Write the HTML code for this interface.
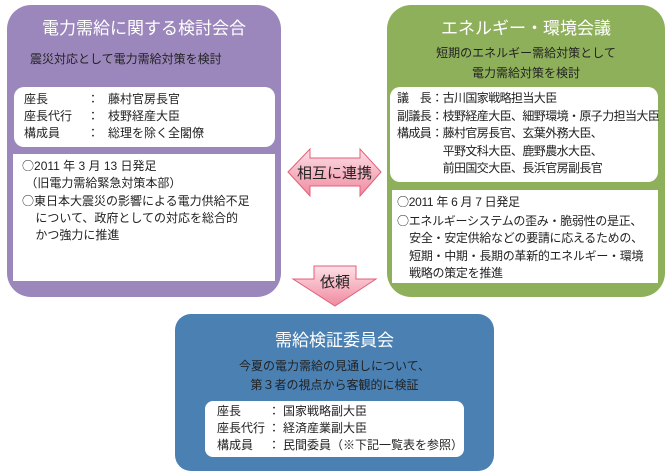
<!DOCTYPE html>
<html><head><meta charset="utf-8"><style>
body{margin:0;width:671px;height:476px;background:#fff;position:relative;overflow:hidden;font-family:"Liberation Sans","Noto Sans CJK JP",sans-serif;color:#222}
.a{position:absolute}
.box{position:absolute;border-radius:24px}
.t{position:absolute;left:0;right:0;text-align:center;color:#fff;font-size:17px}
.s{position:absolute;font-size:12px;line-height:18px;white-space:nowrap}
.w{position:absolute;background:#fff}
.c{font-family:"Noto Sans CJK JP",sans-serif}
</style></head><body>
<div class="box" style="left:7px;top:5px;width:274px;height:292px;background:#9c87bc"></div>
<div class="a t" style="left:7px;width:274px;right:auto;top:14px">電力需給に関する検討会合</div>
<div class="s" style="left:30px;top:50px">震災対応として電力需給対策を検討</div>
<div class="w" style="left:14px;top:87px;width:261px;height:60px;border-radius:10px"></div>
<div class="s" style="left:24px;top:91px;line-height:17px">座長<br>座長代行<br>構成員</div>
<div class="s" style="left:87px;top:91px;line-height:17px">：<br>：<br>：</div>
<div class="s" style="left:108px;top:91px;line-height:17px">藤村官房長官<br>枝野経産大臣<br>総理を除く全閣僚</div>
<div class="w" style="left:13px;top:154px;width:262px;height:127px"></div>
<div class="s" style="left:22px;top:157px;line-height:17px"><span class="c">○</span>2011 年 3 月 13 日発足<br>&nbsp;（旧電力需給緊急対策本部）<br><span class="c">○</span>東日本大震災の影響による電力供給不足<br>&nbsp;&nbsp;&nbsp;&nbsp;について、政府としての対応を総合的<br>&nbsp;&nbsp;&nbsp;&nbsp;かつ強力に推進</div>

<div class="box" style="left:387px;top:5px;width:278px;height:292px;background:#8fb05b"></div>
<div class="a t" style="left:387px;width:278px;right:auto;top:14px">エネルギー・環境会議</div>
<div class="s" style="left:387px;width:278px;text-align:center;top:43px;line-height:20px">短期のエネルギー需給対策として<br>電力需給対策を検討</div>
<div class="w" style="left:390px;top:87px;width:268px;height:95px;border-radius:10px"></div>
<div class="s" style="left:397px;top:90px;line-height:17.5px;letter-spacing:-0.6px">議　長：古川国家戦略担当大臣<br>副議長：枝野経産大臣、細野環境・原子力担当大臣<br>構成員：藤村官房長官、玄葉外務大臣、<br>　　　　平野文科大臣、鹿野農水大臣、<br>　　　　前田国交大臣、長浜官房副長官</div>
<div class="w" style="left:392px;top:190px;width:266px;height:93px"></div>
<div class="s" style="left:397px;top:193px;line-height:17.5px;letter-spacing:-0.3px"><span class="c">○</span>2011 年 6 月 7 日発足<br><span class="c">○</span>エネルギーシステムの歪み・脆弱性の是正、<br>&nbsp;&nbsp;&nbsp;&nbsp;安全・安定供給などの要請に応えるための、<br>&nbsp;&nbsp;&nbsp;&nbsp;短期・中期・長期の革新的エネルギー・環境<br>&nbsp;&nbsp;&nbsp;&nbsp;戦略の策定を推進</div>

<svg class="a" style="left:0;top:0" width="671" height="476">
<defs><linearGradient id="g" x1="0" y1="0" x2="0" y2="1"><stop offset="0" stop-color="#fde0e6"/><stop offset="1" stop-color="#f08aa0"/></linearGradient></defs>
<polygon points="288,172 310,149 310,158 360,158 360,149 381,172 360,196 360,186 310,186 310,196" fill="url(#g)" stroke="#e0607a" stroke-width="1"/>
<polygon points="314,266 356,266 356,279 376,279 335,306 293,279 314,279" fill="url(#g)" stroke="#e0607a" stroke-width="1"/>
<text x="334.5" y="178" font-size="15" text-anchor="middle" fill="#222" font-family="Liberation Sans,Noto Sans CJK JP,sans-serif">相互に連携</text>
<text x="335" y="287" font-size="15" text-anchor="middle" fill="#222" font-family="Liberation Sans,Noto Sans CJK JP,sans-serif">依頼</text>
</svg>

<div class="box" style="left:175px;top:314px;width:319px;height:157px;background:#4b80b3;border-radius:16px"></div>
<div class="a t" style="left:175px;width:319px;right:auto;top:326px">需給検証委員会</div>
<div class="s" style="left:175px;width:319px;text-align:center;top:357px;line-height:19px">今夏の電力需給の見通しについて、<br>第３者の視点から客観的に検証</div>
<div class="w" style="left:205px;top:401px;width:259px;height:56px;border-radius:8px"></div>
<div class="s" style="left:217px;top:403px;line-height:17px">座長<br>座長代行<br>構成員</div>
<div class="s" style="left:268px;top:403px;line-height:17px">：<br>：<br>：</div>
<div class="s" style="left:283px;top:403px;line-height:17px">国家戦略副大臣<br>経済産業副大臣<br>民間委員（※下記一覧表を参照）</div>
</body></html>
